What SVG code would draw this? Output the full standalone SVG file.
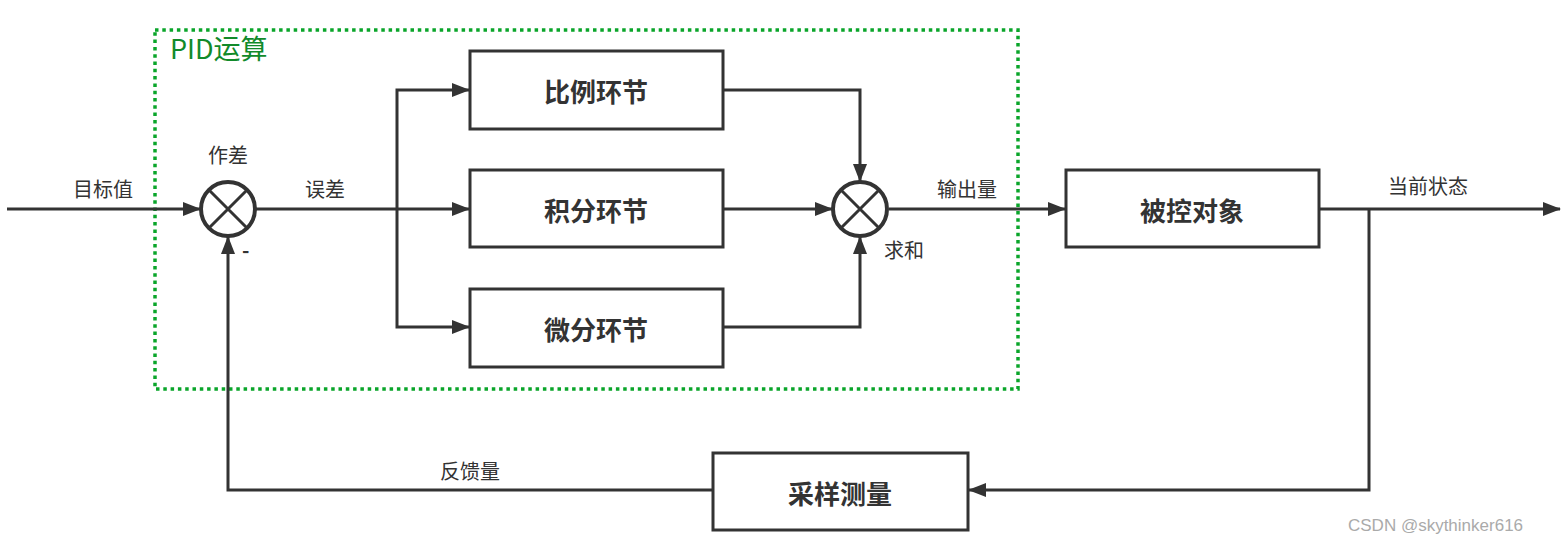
<svg xmlns="http://www.w3.org/2000/svg" width="1561" height="535" viewBox="0 0 1561 535">
<style>
.box{fill:#fff;stroke:#333;stroke-width:3}
.bt{font-family:"Noto Sans CJK SC","Noto Sans",sans-serif;font-size:26px;font-weight:bold;fill:#333;text-anchor:middle;dominant-baseline:central}
.lbl{font-family:"Noto Sans CJK SC","Noto Sans",sans-serif;font-size:20px;fill:#333}
.ln{fill:none;stroke:#333;stroke-width:3}
.ar{marker-end:url(#ah)}
.sum{fill:#fff;stroke:#333;stroke-width:4}
</style>
<defs>
<marker id="ah" markerUnits="userSpaceOnUse" markerWidth="18" markerHeight="14" viewBox="0 0 18 14" refX="17" refY="7" orient="auto">
<path d="M0,0 L18,7 L0,14 Z" fill="#333"/>
</marker>
</defs>
<rect width="1561" height="535" fill="#fff"/>
<g id="pid-group">
<rect x="155" y="30" width="863" height="359" fill="none" stroke="#0aa52a" stroke-width="3.5" stroke-dasharray="3.5 3.8"/>
<text x="170" y="59" font-family="'Noto Sans CJK SC','Noto Sans',sans-serif" font-size="27" fill="#118a2a">PID运算</text>
</g>
<g id="connectors">
<path class="ln ar" d="M7,209 L200,209"/>
<path class="ln" d="M256,209 L397,209"/>
<path class="ln ar" d="M397,209 L469,209"/>
<path class="ln ar" d="M397,209 L397,90 L469,90"/>
<path class="ln ar" d="M397,209 L397,327 L469,327"/>
<path class="ln ar" d="M723,90 L860,90 L860,181"/>
<path class="ln ar" d="M723,209 L832,209"/>
<path class="ln ar" d="M723,327 L860,327 L860,237"/>
<path class="ln ar" d="M889,209 L1065,209"/>
<path class="ln ar" d="M1319,209 L1560,209"/>
<path class="ln ar" d="M1369,209 L1369,490 L969,490"/>
<path class="ln ar" d="M713,490 L228,490 L228,237"/>
</g>
<g id="sub">
<circle class="sum" cx="228" cy="209" r="27"/>
<path class="ln" stroke-width="4" d="M209,190 L247,228 M247,190 L209,228"/>
<text class="lbl" x="228" y="163" text-anchor="middle">作差</text>
<text class="lbl" x="242" y="258" font-weight="bold">-</text>
</g>
<g id="sum">
<circle class="sum" cx="860" cy="209" r="27"/>
<path class="ln" stroke-width="4" d="M841,190 L879,228 M879,190 L841,228"/>
<text class="lbl" x="884" y="258">求和</text>
</g>
<g id="p">
<rect class="box" x="470" y="51" width="253" height="78"/>
<text class="bt" x="596" y="90">比例环节</text>
</g>
<g id="i">
<rect class="box" x="470" y="170" width="253" height="77"/>
<text class="bt" x="596" y="209">积分环节</text>
</g>
<g id="d">
<rect class="box" x="470" y="289" width="253" height="78"/>
<text class="bt" x="596" y="328">微分环节</text>
</g>
<g id="plant">
<rect class="box" x="1066" y="170" width="253" height="77"/>
<text class="bt" x="1192" y="209">被控对象</text>
</g>
<g id="sensor">
<rect class="box" x="713" y="453" width="255" height="77"/>
<text class="bt" x="840" y="492">采样测量</text>
</g>
<g id="labels">
<text class="lbl" x="73" y="197">目标值</text>
<text class="lbl" x="305" y="197">误差</text>
<text class="lbl" x="937" y="197">输出量</text>
<text class="lbl" x="1388" y="194">当前状态</text>
<text class="lbl" x="440" y="479">反馈量</text>
<text x="1348" y="531" font-family="'Liberation Sans',sans-serif" font-size="17" fill="#aaa">CSDN @skythinker616</text>
</g>
</svg>
